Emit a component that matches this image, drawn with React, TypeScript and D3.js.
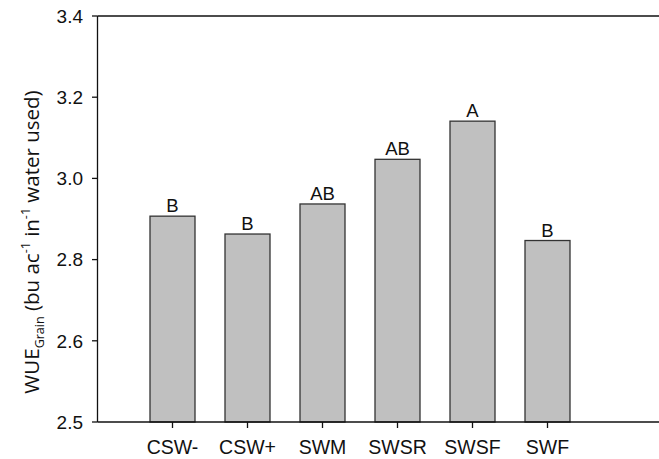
import React from "react";
import * as d3 from "d3";

const categories = ["CSW-", "CSW+", "SWM", "SWSR", "SWSF", "SWF"];
const values = [2.907, 2.863, 2.937, 3.047, 3.141, 2.847];
const letters = ["B", "B", "AB", "AB", "A", "B"];
const yTickValues = [2.4, 2.6, 2.8, 3.0, 3.2, 3.4];
const yTickLabels = ["2.5", "2.6", "2.8", "3.0", "3.2", "3.4"];

const W = 659;
const H = 459;
const left = 97.5;
const top = 16;
const bottom = 422;

export default function App() {
  const x = d3.scaleLinear().domain([0, 7.5]).range([left, 660]);
  const y = d3.scaleLinear().domain([2.4, 3.4]).range([bottom, top]);
  const barW = x(0.6) - x(0);
  const font = "'Liberation Sans', Arial, sans-serif";

  return (
    <svg
      width={W}
      height={H}
      style={{ position: "absolute", left: 0, top: 0, background: "#fff" }}
    >
      {values.map((v, i) => (
        <rect
          key={categories[i]}
          x={x(i + 1) - barW / 2}
          y={y(v)}
          width={barW}
          height={y(2.4) - y(v)}
          fill="#c0c0c0"
          stroke="#333"
          strokeWidth={1.3}
        />
      ))}
      {values.map((v, i) => (
        <text
          key={"l" + i}
          x={x(i + 1)}
          y={y(v) - 4}
          textAnchor="middle"
          fontFamily={font}
          fontSize={18.5}
          fill="#111"
        >
          {letters[i]}
        </text>
      ))}
      <line x1={left} x2={W} y1={top} y2={top} stroke="#111" strokeWidth={1.3} />
      <line x1={left} x2={W} y1={bottom} y2={bottom} stroke="#111" strokeWidth={1.3} />
      <line x1={left} x2={left} y1={top} y2={bottom} stroke="#111" strokeWidth={1.3} />
      {yTickValues.map((t, i) => (
        <g key={"yt" + i}>
          <line x1={left - 5.5} x2={left} y1={y(t)} y2={y(t)} stroke="#111" strokeWidth={1.3} />
          <text
            x={83}
            y={y(t)}
            dy="0.36em"
            textAnchor="end"
            fontFamily={font}
            fontSize={19}
            fill="#111"
          >
            {yTickLabels[i]}
          </text>
        </g>
      ))}
      {categories.map((c, i) => (
        <g key={"xt" + i}>
          <line x1={x(i + 1)} x2={x(i + 1)} y1={bottom} y2={bottom + 6} stroke="#111" strokeWidth={1.3} />
          <text
            x={x(i + 1)}
            y={453.5}
            textAnchor="middle"
            fontFamily={font}
            fontSize={19.5}
            fill="#111"
          >
            {c}
          </text>
        </g>
      ))}
      <text
        transform={`translate(39, 242) rotate(-90)`}
        textAnchor="middle"
        fontFamily="'Open Sans', 'Noto Sans', sans-serif"
        fontSize={20.5}
        fill="#111"
      >
        WUE
        <tspan fontSize={12.5} dy={5}>Grain</tspan>
        <tspan fontSize={20.5} dy={-5}> (bu ac</tspan>
        <tspan fontSize={12.5} dy={-9}>-1</tspan>
        <tspan fontSize={20.5} dy={9}> in</tspan>
        <tspan fontSize={12.5} dy={-9}>-1</tspan>
        <tspan fontSize={20.5} dy={9}> water used)</tspan>
      </text>
    </svg>
  );
}
